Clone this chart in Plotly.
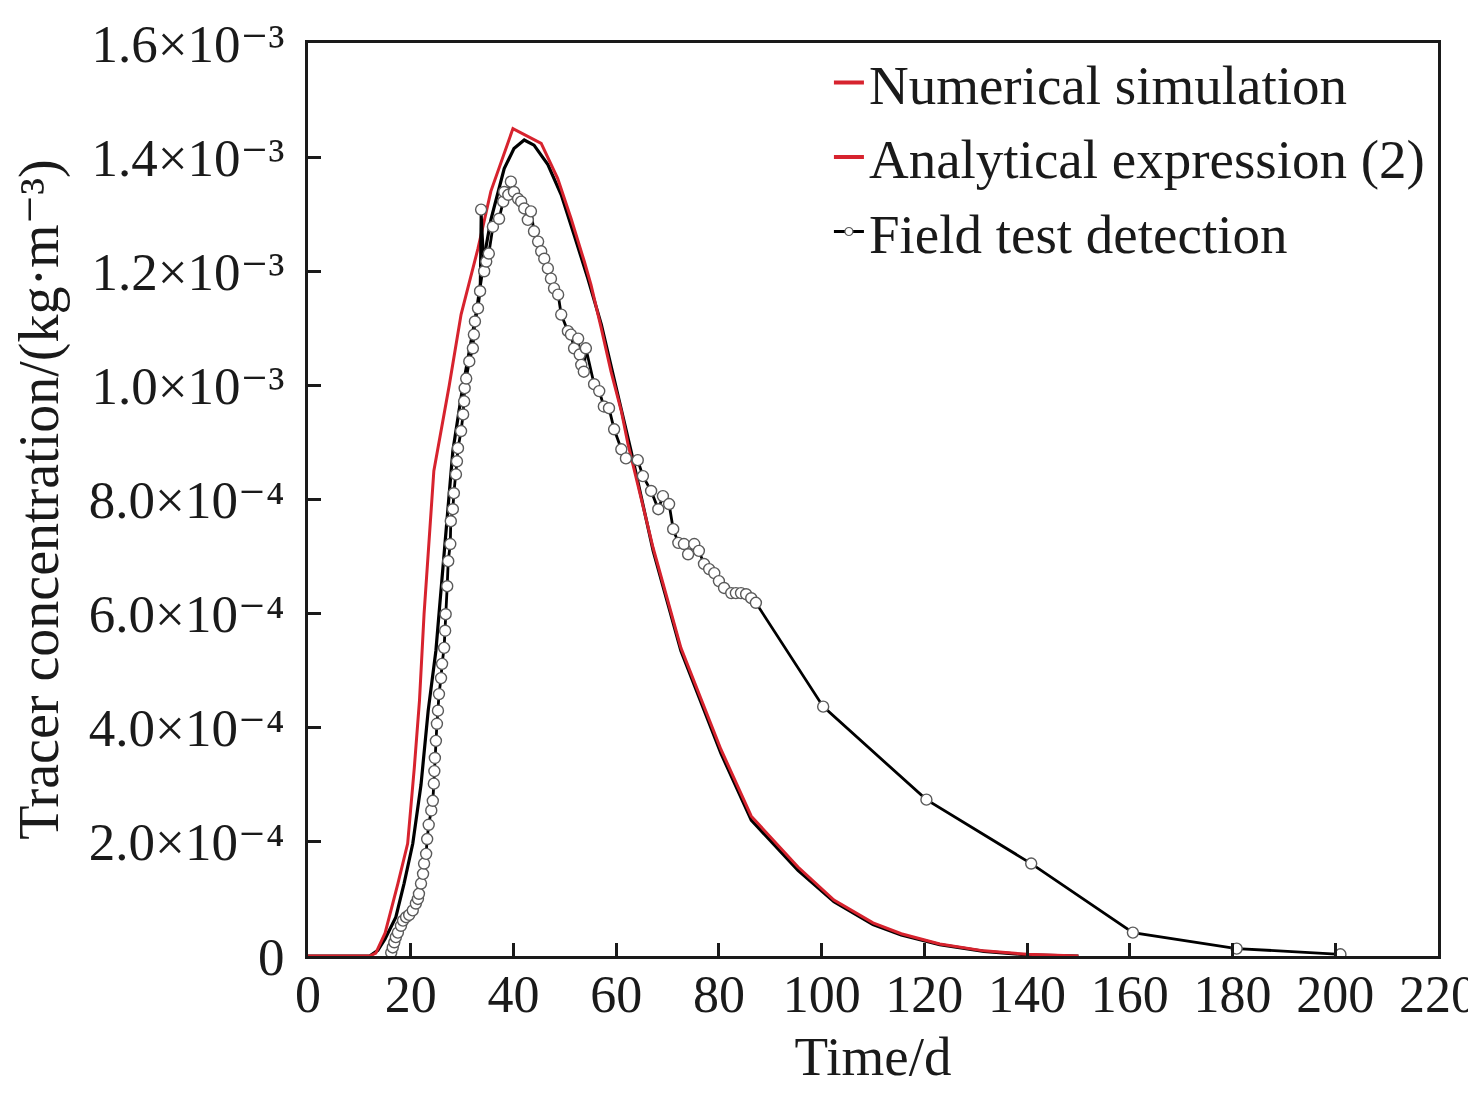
import plotly.graph_objects as go

# values, concentration in 1e-3 kg/m^3, time in days
num_t = [0, 12, 13.2, 15, 17.5, 19.4, 20.7, 21.7, 22.6, 23.6, 24.5, 27.5, 29.8, 33.1, 35.6,
         39.9, 45.4, 48.6, 51.2, 53.8, 55.1, 57.1, 59.0, 61.0, 62.3, 67.2, 72.6, 80.4, 86.3,
         95.4, 102.4, 110, 115.5, 123, 131.6, 140, 150]
num_c = [0, 0, 0.005, 0.04, 0.127, 0.197, 0.33, 0.447, 0.6, 0.74, 0.85, 1.0, 1.124, 1.24, 1.34,
         1.45, 1.424, 1.363, 1.293, 1.217, 1.176, 1.10, 1.024, 0.955, 0.897, 0.715, 0.54, 0.362, 0.245,
         0.156, 0.098, 0.058, 0.039, 0.021, 0.009, 0.003, 0]

ana_t = [0, 12, 13.6, 15, 17.1, 18.7, 20.4, 22.0, 23.4, 24.9, 25.7, 26.5, 27.2, 28.2, 30.0, 32.7,
         34.6, 35.6, 38.2, 40.1, 42.1, 44.0, 46.7, 49.3, 51.8, 54.5, 57.1, 59.6, 61.5, 62.9,
         67.2, 72.6, 80.4, 86.3, 95.4, 102.4, 110, 115.5, 123, 131.6, 140, 150]
ana_c = [0, 0, 0.01, 0.03, 0.068, 0.127, 0.197, 0.30, 0.43, 0.535, 0.62, 0.71, 0.79, 0.885, 0.99, 1.124,
         1.24, 1.29, 1.38, 1.415, 1.43, 1.421, 1.387, 1.334, 1.264, 1.187, 1.107, 1.013, 0.943, 0.885,
         0.71, 0.535, 0.355, 0.238, 0.15, 0.095, 0.055, 0.037, 0.02, 0.008, 0.002, 0]

field_t = [16.2, 16.5, 16.8, 17.1, 17.5, 18.1, 18.5, 19.1, 19.7, 20.4, 21.0, 21.4, 21.6, 22.0, 22.4,
           22.6, 23.0, 23.2, 23.5, 24.0, 24.3, 24.5, 24.6, 24.7, 24.9, 25.1, 25.3, 25.5, 25.9, 26.1,
           26.5, 26.7, 26.8, 27.1, 27.3, 27.7, 27.8, 28.2, 28.4, 28.8, 29.0, 29.2, 29.8, 30.2, 30.4,
           30.5, 30.8, 31.4, 32.1, 32.3, 32.5, 33.1, 33.5, 33.7, 34.3, 34.7, 35.2, 36.0, 37.2, 38.0,
           38.2, 39.0, 39.5, 40.1, 40.9, 41.5, 42.1, 42.8, 43.4, 44.0, 44.8, 45.4, 46.0, 46.7, 47.3,
           47.9, 48.7, 49.3, 50.6, 51.2, 51.8, 52.6, 52.9, 53.2, 53.7, 54.1, 55.7, 56.7, 57.6, 58.6,
           59.6, 61.0, 61.9, 64.2, 65.2, 66.8, 68.2, 69.1, 70.3, 71.1, 72.1, 73.2, 74.0, 75.2, 76.1,
           77.1, 78.1, 79.1, 80.0, 81.0, 82.4, 83.3, 84.3, 85.3, 86.3, 87.2, 100.3, 120.4, 140.8,
           160.6, 180.8, 201.0]
field_c = [0.006, 0.015, 0.024, 0.033, 0.041, 0.053, 0.062, 0.068, 0.072, 0.080, 0.092, 0.100, 0.109, 0.127, 0.144,
           0.162, 0.179, 0.205, 0.230, 0.255, 0.272, 0.302, 0.324, 0.347, 0.377, 0.407, 0.430, 0.459, 0.487, 0.512,
           0.540, 0.570, 0.599, 0.648, 0.692, 0.722, 0.762, 0.783, 0.811, 0.844, 0.867, 0.890, 0.920, 0.949, 0.972,
           0.995, 1.012, 1.042, 1.065, 1.089, 1.112, 1.135, 1.165, 1.308, 1.200, 1.217, 1.231, 1.278, 1.292, 1.322,
           1.339, 1.334, 1.357, 1.339, 1.327, 1.322, 1.310, 1.290, 1.305, 1.270, 1.252, 1.235, 1.222, 1.205, 1.187,
           1.170, 1.159, 1.124, 1.095, 1.089, 1.065, 1.082, 1.054, 1.036, 1.024, 1.065, 1.002, 0.990, 0.963, 0.960,
           0.923, 0.888, 0.872, 0.869, 0.841, 0.815, 0.783, 0.806, 0.792, 0.748, 0.724, 0.722, 0.704, 0.722, 0.710,
           0.687, 0.678, 0.671, 0.657, 0.645, 0.636, 0.636, 0.636, 0.634, 0.627, 0.619, 0.437, 0.274, 0.162,
           0.041, 0.013, 0.003]

y_ticks = [0, 0.2, 0.4, 0.6, 0.8, 1.0, 1.2, 1.4, 1.6]
y_labels = ["0", "2.0×10⁻⁴", "4.0×10⁻⁴", "6.0×10⁻⁴", "8.0×10⁻⁴",
            "1.0×10⁻³", "1.2×10⁻³", "1.4×10⁻³", "1.6×10⁻³"]
x_ticks = list(range(0, 221, 20))

RED = "#d7232e"
INK = "#1a1a1a"
FONT = "Liberation Serif, DejaVu Serif"


def main():
    sc = 1e-3
    fig = go.Figure()
    # curves on the plot (analytical drawn black in the original figure)
    fig.add_trace(go.Scatter(x=ana_t, y=[c * sc for c in ana_c], mode="lines",
                             line=dict(color="black", width=3.2), showlegend=False))
    fig.add_trace(go.Scatter(x=num_t, y=[c * sc for c in num_c], mode="lines",
                             line=dict(color=RED, width=3), showlegend=False))
    fig.add_trace(go.Scatter(x=field_t, y=[c * sc for c in field_c], mode="lines+markers",
                             line=dict(color="black", width=2.8),
                             marker=dict(symbol="circle", size=11, color="white",
                                         line=dict(color="#5a5a5a", width=1.4)),
                             showlegend=False))
    # legend entries as in the original (both model curves keyed red)
    fig.add_trace(go.Scatter(x=[None], y=[None], mode="lines", name="Numerical simulation",
                             line=dict(color=RED, width=4)))
    fig.add_trace(go.Scatter(x=[None], y=[None], mode="lines", name="Analytical expression (2)",
                             line=dict(color=RED, width=4)))
    fig.add_trace(go.Scatter(x=[None], y=[None], mode="lines+markers", name="Field test detection",
                             line=dict(color="black", width=3),
                             marker=dict(size=8, color="white", line=dict(color="#5a5a5a", width=1.2))))

    axis = dict(showline=True, linecolor=INK, linewidth=3, mirror=True, ticks="inside",
                ticklen=13, tickwidth=3, tickcolor=INK, showgrid=False, zeroline=False,
                automargin=False, ticklabeloverflow="allow")
    fig.update_xaxes(range=[0, 220], tickvals=x_ticks, ticklabelstandoff=-9,
                     tickfont=dict(family=FONT, size=52, color=INK),
                     title=dict(text="Time/d", standoff=15,
                                font=dict(family=FONT, size=55, color=INK)), **axis)
    fig.update_yaxes(range=[0, 1.6e-3], tickvals=[v * sc for v in y_ticks], ticktext=y_labels,
                     ticklabelstandoff=10, tickfont=dict(family=FONT, size=53, color=INK),
                     title=dict(text="Tracer concentration/(kg·m⁻³)", standoff=22,
                                font=dict(family=FONT, size=56, color=INK)), **axis)
    fig.update_layout(width=1476, height=1096, margin=dict(l=300, r=46, t=35, b=148),
                      plot_bgcolor="white", paper_bgcolor="white",
                      font=dict(family=FONT, color=INK),
                      legend=dict(x=0.461, y=1.003, xanchor="left", yanchor="top",
                                  bgcolor="rgba(0,0,0,0)", tracegroupgap=0,
                                  font=dict(family=FONT, size=55, color=INK)))
    fig.write_html("out.html")


if __name__ == "__main__":
    main()
